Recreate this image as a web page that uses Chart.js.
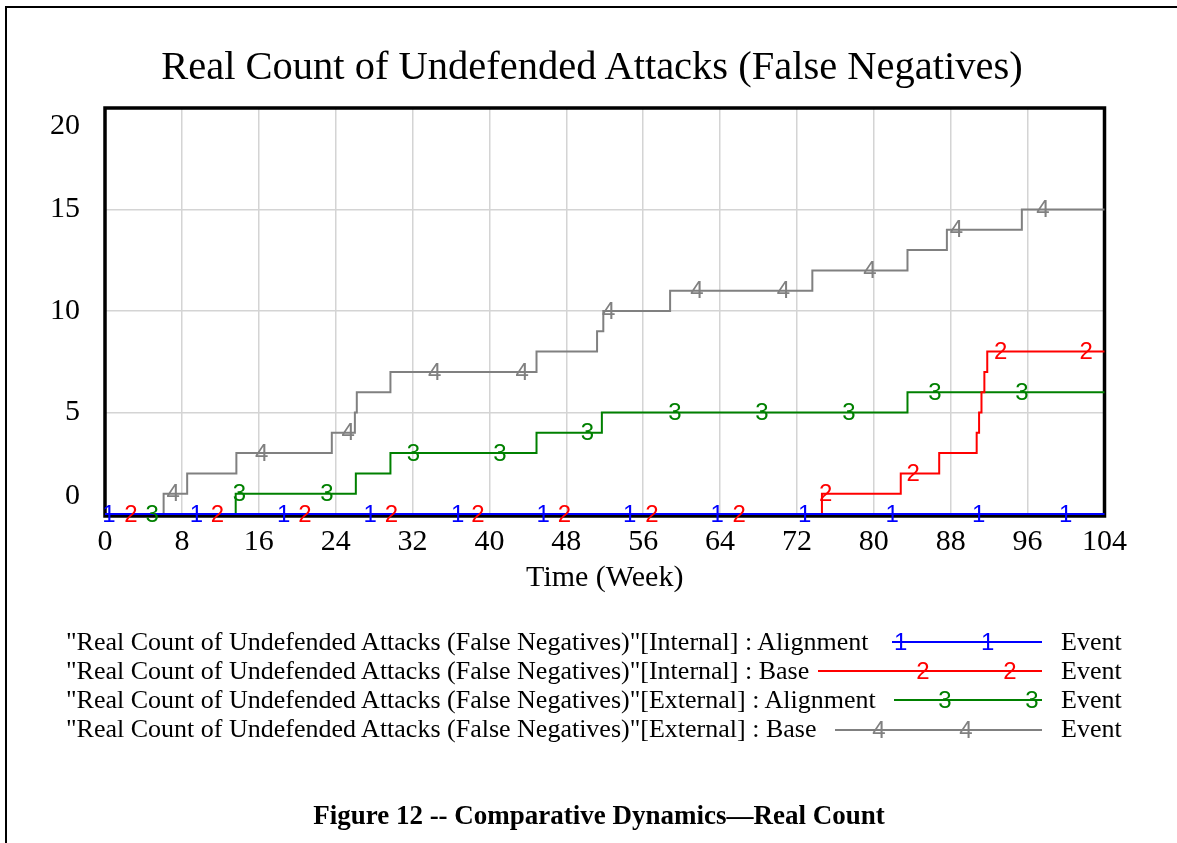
<!DOCTYPE html>
<html>
<head>
<meta charset="utf-8">
<title>Real Count of Undefended Attacks (False Negatives)</title>
<script src="https://cdn.jsdelivr.net/npm/chart.js@4.4.1/dist/chart.umd.min.js"></script>
<style>
  body { margin: 0; background: #fff; }
  #wrap { position: relative; width: 1177px; height: 843px; overflow: hidden; }
  #frame { position: absolute; left: 5px; top: 6px; width: 1300px; height: 1000px;
           border-left: 2px solid #000; border-top: 2px solid #000; }
  canvas { position: absolute; left: 0; top: 0; }
  #title { position: absolute; left: 0; width: 1184px; top: 42px; text-align: center; white-space: nowrap;
           font-family: "Liberation Serif", serif; font-size: 40.5px; line-height: 48px; color: #000; }
  .row { position: absolute; left: 66px; font-family: "Liberation Serif", serif; font-size: 26px;
         line-height: 30px; white-space: nowrap; color: #000; }
  .event { position: absolute; left: 1061px; font-family: "Liberation Serif", serif; font-size: 26px;
           line-height: 30px; color: #000; }
  .sample { position: absolute; height: 0; border-top: 2px solid; }
  .mk { position: absolute; font-family: "Liberation Sans", sans-serif; font-size: 24px; line-height: 24px;
        transform: translate(-50%, -50%); }
  #caption { position: absolute; left: 0; width: 1198px; top: 799px; text-align: center;
             font-family: "Liberation Serif", serif; font-weight: bold; font-size: 27px; line-height: 32px; }
</style>
</head>
<body>
<div id="wrap">
  <canvas id="chart" width="1177" height="843"></canvas>
  <div id="frame"></div>
  <div id="title"></div>
  <div id="legend"></div>
  <div id="caption">Figure 12 -- Comparative Dynamics—Real Count</div>
</div>
<script>
// chart text
const chartTitle = 'Real Count of Undefended Attacks (False Negatives)';
const xTitle = 'Time (Week)';
const xTicks = [0, 8, 16, 24, 32, 40, 48, 56, 64, 72, 80, 88, 96, 104];
const yTicks = [0, 5, 10, 15, 20];

const seriesNames = [
    '"Real Count of Undefended Attacks (False Negatives)"[Internal] : Alignment',
    '"Real Count of Undefended Attacks (False Negatives)"[Internal] : Base',
    '"Real Count of Undefended Attacks (False Negatives)"[External] : Alignment',
    '"Real Count of Undefended Attacks (False Negatives)"[External] : Base'
];
const seriesUnit = 'Event';
const seriesDigits = ['1', '2', '3', '4'];
const seriesColors = ['#0000ff', '#ff0000', '#008000', '#808080'];

// step series: week where the count changes, and the new count
const intAlignWeeks = [0, 104];
const intAlignCounts = [0, 0];
const intBaseWeeks = [0, 74.6, 82.8, 86.8, 90.7, 90.95, 91.2, 91.5, 91.8, 104];
const intBaseCounts = [0, 1, 2, 3, 4, 5, 6, 7, 8, 8];
const extAlignWeeks = [0, 13.6, 26.1, 29.7, 44.9, 51.7, 83.5, 104];
const extAlignCounts = [0, 1, 2, 3, 4, 5, 6, 6];
const extBaseWeeks = [0, 6.1, 8.55, 13.67, 23.6, 26.0, 26.2, 29.7, 44.9, 51.2, 51.85, 58.8, 73.6, 83.5, 87.6, 95.4, 104];
const extBaseCounts = [0, 1, 2, 3, 4, 5, 6, 7, 8, 9, 10, 11, 12, 13, 14, 15, 15];

// weeks where the series number is printed on the line
const intAlignMarks = [0.4, 9.5, 18.6, 27.6, 36.7, 45.6, 54.6, 63.7, 72.8, 81.9, 90.9, 99.95];
const intBaseMarks = [2.7, 11.7, 20.8, 29.8, 38.8, 47.8, 56.9, 66.0, 75.0, 84.1, 93.2, 102.1];
const extAlignMarks = [4.9, 14.0, 23.1, 32.1, 41.1, 50.2, 59.3, 68.35, 77.4, 86.35, 95.4];
const extBaseMarks = [7.1, 16.3, 25.3, 34.3, 43.4, 52.4, 61.6, 70.6, 79.6, 88.6, 97.6];

const seriesWeeks = [intAlignWeeks, intBaseWeeks, extAlignWeeks, extBaseWeeks];
const seriesCounts = [intAlignCounts, intBaseCounts, extAlignCounts, extBaseCounts];
const seriesMarks = [intAlignMarks, intBaseMarks, extAlignMarks, extBaseMarks];

// legend sample layout (px)
const legendTops = [627, 656, 685, 714];
const sampleY = [641, 670, 699, 729];
const sampleStart = [892, 818, 894, 835];
const sampleEnd = 1042;
const sampleMarks = [[900.7, 987.7], [923, 1010], [945, 1032], [879, 966]];

const serif = 'Liberation Serif';

document.getElementById('title').textContent = chartTitle;

function countAt(weeks, counts, w) {
    let c = counts[0];
    for (let i = 0; i < weeks.length; i++) {
        if (weeks[i] <= w) c = counts[i];
    }
    return c;
}

const datasets = [];
for (let s = 0; s < 4; s++) {
    datasets.push({
        label: seriesNames[s],
        data: seriesWeeks[s].map((w, i) => ({ x: w, y: seriesCounts[s][i] })),
        borderColor: seriesColors[s],
        borderWidth: 2,
        stepped: 'before',
        pointRadius: 0,
        fill: false,
        clip: false
    });
}
for (let s = 0; s < 4; s++) {
    datasets.push({
        label: seriesNames[s] + ' marks',
        data: seriesMarks[s].map(w => ({ x: w, y: countAt(seriesWeeks[s], seriesCounts[s], w) })),
        borderColor: seriesColors[s],
        showLine: false,
        pointRadius: 0,
        clip: false,
        digit: seriesDigits[s]
    });
}

// thick black box round the plot
const framePlugin = {
    id: 'frame',
    beforeDatasetsDraw(chart) {
        const { ctx, chartArea: a } = chart;
        ctx.save();
        ctx.strokeStyle = '#000';
        ctx.lineWidth = 3.5;
        ctx.strokeRect(a.left, a.top, a.right - a.left, a.bottom - a.top + 2);
        ctx.restore();
    }
};

// series numbers drawn on the lines
const digitPlugin = {
    id: 'digits',
    afterDatasetsDraw(chart) {
        const ctx = chart.ctx;
        ctx.save();
        ctx.font = '24px "Liberation Sans"';
        ctx.textAlign = 'center';
        ctx.textBaseline = 'middle';
        chart.data.datasets.forEach((ds, i) => {
            if (!ds.digit) return;
            ctx.fillStyle = ds.borderColor;
            chart.getDatasetMeta(i).data.forEach(pt => ctx.fillText(ds.digit, pt.x, pt.y + 1));
        });
        ctx.restore();
    }
};

const ctx = document.getElementById('chart').getContext('2d');
const chart = new Chart(ctx, {
    type: 'line',
    data: { datasets: datasets },
    options: {
        responsive: false,
        animation: false,
        events: [],
        layout: { padding: { top: 108, left: 0, right: 72.5, bottom: 243 } },
        plugins: {
            legend: { display: false },
            tooltip: { enabled: false }
        },
        scales: {
            x: {
                type: 'linear',
                min: 0,
                max: 104,
                afterBuildTicks: s => { s.ticks = xTicks.map(v => ({ value: v })); },
                afterFit: s => { s.height = 86; },
                grid: { color: '#d4d4d4', lineWidth: 1.5, drawTicks: false },
                border: { display: false },
                ticks: { color: '#000', font: { family: serif, size: 30 }, padding: 10, maxRotation: 0, autoSkip: false },
                title: { display: true, text: xTitle, color: '#000', font: { family: serif, size: 30 }, padding: { top: 0, bottom: 4 } }
            },
            y: {
                min: 0,
                max: 20,
                afterBuildTicks: s => { s.ticks = yTicks.map(v => ({ value: v })); },
                afterFit: s => { s.width = 105; },
                grid: { color: '#d4d4d4', lineWidth: 1.5, drawTicks: false },
                border: { display: false },
                ticks: {
                    color: '#000',
                    font: { family: serif, size: 30 },
                    padding: 25,
                    // end labels sit inside the box: top one below its line, bottom one above
                    callback: v => v === 20 ? ['', '20'] : v === 0 ? ['0', ''] : String(v)
                }
            }
        }
    },
    plugins: [framePlugin, digitPlugin]
});

// legend rows
const legend = document.getElementById('legend');
for (let s = 0; s < 4; s++) {
    const row = document.createElement('div');
    row.className = 'row';
    row.style.top = legendTops[s] + 'px';
    row.textContent = seriesNames[s];
    legend.appendChild(row);

    const line = document.createElement('div');
    line.className = 'sample';
    line.style.borderColor = seriesColors[s];
    line.style.left = sampleStart[s] + 'px';
    line.style.width = (sampleEnd - sampleStart[s]) + 'px';
    line.style.top = sampleY[s] + 'px';
    legend.appendChild(line);

    sampleMarks[s].forEach(x => {
        const mk = document.createElement('div');
        mk.className = 'mk';
        mk.style.color = seriesColors[s];
        mk.style.left = x + 'px';
        mk.style.top = (sampleY[s] + 1) + 'px';
        mk.textContent = seriesDigits[s];
        legend.appendChild(mk);
    });

    const ev = document.createElement('div');
    ev.className = 'event';
    ev.style.top = legendTops[s] + 'px';
    ev.textContent = seriesUnit;
    legend.appendChild(ev);
}
</script>
</body>
</html>
